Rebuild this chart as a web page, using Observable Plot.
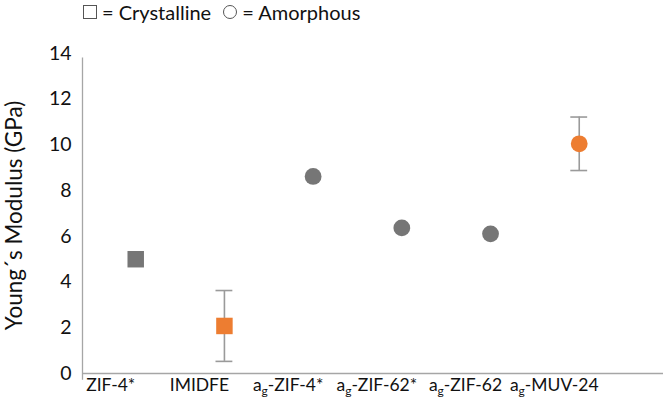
<!DOCTYPE html>
<html>
<head>
<meta charset="utf-8">
<script src="https://cdn.jsdelivr.net/npm/d3@7"></script>
<script src="https://cdn.jsdelivr.net/npm/@observablehq/plot@0.6"></script>
<style>
  html, body { margin: 0; padding: 0; background: #fff; }
  body { width: 666px; height: 400px; overflow: hidden; font-family: Lato, "Open Sans", sans-serif; }
  #legend { height: 28px; position: relative; font-size: 20px; color: #111; }
  #legend .inner { position: absolute; left: 83px; top: 0px; display: flex; align-items: center; white-space: nowrap; }
  .sq { display: inline-block; width: 12px; height: 12px; border: 1px solid #555; margin-right: 5px; }
  .ci { display: inline-block; width: 12px; height: 12px; border: 1px solid #555; border-radius: 50%; margin-right: 5px; margin-left: 12px; }
  #chart svg { overflow: visible; }
</style>
</head>
<body>
<div id="legend"><div class="inner"><span class="sq"></span><span>= Crystalline</span><span class="ci"></span><span>= Amorphous</span></div></div>
<div id="chart"></div>
<script>
// Data
const names = ["ZIF-4*", "IMIDFE", "ag-ZIF-4*", "ag-ZIF-62*", "ag-ZIF-62", "ag-MUV-24"];
const modulus = [5.0, 2.08, 8.62, 6.37, 6.11, 10.05];        // GPa
const errors = [null, 1.55, null, null, null, 1.17];          // GPa (±)
const phases = ["Crystalline", "Crystalline", "Amorphous", "Amorphous", "Amorphous", "Amorphous"];
const sources = ["literature", "this work", "literature", "literature", "literature", "this work"];
const yTicks = [0, 2, 4, 6, 8, 10, 12, 14];
const yLabel = "Young´s Modulus (GPa)";

const data = names.map((name, k) => ({
  i: k + 1, name, E: modulus[k], err: errors[k], phase: phases[k], source: sources[k]
}));
const withErr = data.filter(d => d.err != null);

const gray = "#767676", orange = "#ED7D31", axisGray = "#a6a6a6", errGray = "#9a9a9a";
const capHalf = 0.095;

const chart = Plot.plot({
  width: 666,
  height: 372,
  marginLeft: 82,
  marginRight: 3,
  marginTop: 25,
  marginBottom: 27,
  style: { fontFamily: "Lato, 'Open Sans', sans-serif", fontSize: "19px", color: "#111", background: "#fff", overflow: "visible" },
  x: { domain: [0.4, 6.95], axis: null },
  y: { domain: [0, 14], axis: null },
  color: { domain: ["literature", "this work"], range: [gray, orange] },
  marks: [
    Plot.axisY({ ticks: yTicks, tickSize: 0, tickPadding: 11, label: null, fontSize: 19.5 }),
    Plot.axisX({ ticks: data.map(d => d.i), tickFormat: v => names[v - 1], tickSize: 0, tickPadding: 5, label: null, fontSize: 17.5, dx: -25 }),
    Plot.text([yLabel], { frameAnchor: "left", textAnchor: "middle", rotate: -90, dx: -68, dy: 2, fontSize: 22.5, fill: "#111" }),
    Plot.ruleY([0], { x1: 0.4, x2: 6.95, stroke: axisGray, strokeWidth: 1.3 }),
    Plot.ruleX([0.4], { y1: -0.3, y2: 13.8, stroke: axisGray, strokeWidth: 1.3 }),
    Plot.ruleX(withErr, { x: "i", y1: d => d.E - d.err, y2: d => d.E + d.err, stroke: errGray, strokeWidth: 1.6 }),
    Plot.ruleY(withErr, { y: d => d.E + d.err, x1: d => d.i - capHalf, x2: d => d.i + capHalf, stroke: errGray, strokeWidth: 1.6 }),
    Plot.ruleY(withErr, { y: d => d.E - d.err, x1: d => d.i - capHalf, x2: d => d.i + capHalf, stroke: errGray, strokeWidth: 1.6 }),
    Plot.dot(data.filter(d => d.phase === "Crystalline"), { x: "i", y: "E", symbol: "square", r: 9.3, fill: "source", stroke: "none" }),
    Plot.dot(data.filter(d => d.phase === "Amorphous"), { x: "i", y: "E", symbol: "circle", r: 8.4, fill: "source", stroke: "none" })
  ]
});

// subscript "g" in the a_g- labels
chart.querySelectorAll('g[aria-label="x-axis tick label"] text').forEach(t => {
  const s = t.textContent;
  if (s.startsWith("ag-")) {
    t.textContent = "";
    const ns = "http://www.w3.org/2000/svg";
    const a = document.createElementNS(ns, "tspan"); a.textContent = "a";
    const g = document.createElementNS(ns, "tspan"); g.textContent = "g";
    g.setAttribute("font-size", "12"); g.setAttribute("dy", "4");
    const r = document.createElementNS(ns, "tspan"); r.textContent = s.slice(2);
    r.setAttribute("dy", "-4");
    t.append(a, g, r);
  }
});

document.getElementById("chart").append(chart);
</script>
</body>
</html>
